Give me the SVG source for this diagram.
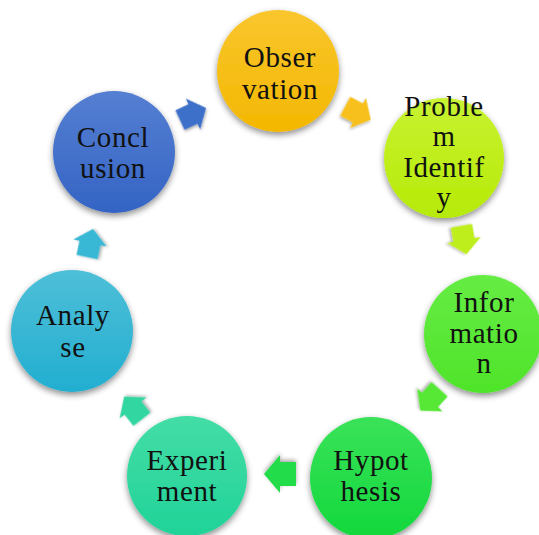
<svg xmlns="http://www.w3.org/2000/svg" xmlns:xlink="http://www.w3.org/1999/xlink" width="539" height="535" viewBox="0 0 539 535">
<style>
  .lbl { font-family: "Liberation Serif", "Times New Roman", serif; font-size: 29px; letter-spacing: 0.6px; fill: #111; text-anchor: middle; }
  .node circle { filter: url(#sh); }
  .arr { filter: url(#sh2); }
</style>
<defs>
  <filter id="sh" x="-30%" y="-30%" width="160%" height="170%">
    <feDropShadow dx="0" dy="3" stdDeviation="3" flood-color="#000" flood-opacity="0.45"/>
  </filter>
  <filter id="sh2" x="-40%" y="-40%" width="180%" height="180%">
    <feDropShadow dx="0" dy="2" stdDeviation="2" flood-color="#000" flood-opacity="0.35"/>
  </filter>
  <linearGradient id="gObs" x1="0" y1="0" x2="0" y2="1"><stop offset="0" stop-color="#F9C62E"/><stop offset="1" stop-color="#F3B700"/></linearGradient>
  <linearGradient id="gPro" x1="0" y1="0" x2="0" y2="1"><stop offset="0" stop-color="#C8F232"/><stop offset="1" stop-color="#B6EA06"/></linearGradient>
  <linearGradient id="gInf" x1="0" y1="0" x2="0" y2="1"><stop offset="0" stop-color="#66EC44"/><stop offset="1" stop-color="#4FE42A"/></linearGradient>
  <linearGradient id="gHyp" x1="0" y1="0" x2="0" y2="1"><stop offset="0" stop-color="#3AE258"/><stop offset="1" stop-color="#12D83C"/></linearGradient>
  <linearGradient id="gExp" x1="0" y1="0" x2="0" y2="1"><stop offset="0" stop-color="#44DDA6"/><stop offset="1" stop-color="#20D398"/></linearGradient>
  <linearGradient id="gAna" x1="0" y1="0" x2="0" y2="1"><stop offset="0" stop-color="#4EBFD8"/><stop offset="1" stop-color="#22AED0"/></linearGradient>
  <linearGradient id="gCon" x1="0" y1="0" x2="0" y2="1"><stop offset="0" stop-color="#557FD2"/><stop offset="1" stop-color="#3464C4"/></linearGradient>
  <path id="arrow" d="M-16,-12 H0 V-19 L16,0 L0,19 V12 H-16 Z"/>
</defs>
<rect width="539" height="535" fill="#fff"/>

<g id="connectors">
  <use class="arr" xlink:href="#arrow" transform="translate(193,114) rotate(-25) scale(0.9)" fill="#3E6FC9"/>
  <use class="arr" xlink:href="#arrow" transform="translate(358,113) rotate(28) scale(0.9)" fill="#F7C01E"/>
  <use class="arr" xlink:href="#arrow" transform="translate(464,240) rotate(80) scale(0.9)" fill="#BEEE1A"/>
  <use class="arr" xlink:href="#arrow" transform="translate(430,400) rotate(132) scale(0.9)" fill="#56E834"/>
  <use class="arr" xlink:href="#arrow" transform="translate(280,474) rotate(180)" fill="#22DC48"/>
  <use class="arr" xlink:href="#arrow" transform="translate(133,408) rotate(232) scale(0.9)" fill="#30D6A0"/>
  <use class="arr" xlink:href="#arrow" transform="translate(90,243) rotate(-78) scale(0.9)" fill="#38B8D4"/>
</g>

<g id="observation" class="node">
  <circle cx="278" cy="71" r="61" fill="url(#gObs)"/>
  <text class="lbl" x="280" y="67">Obser</text>
  <text class="lbl" x="280" y="99">vation</text>
</g>
<g id="problem" class="node">
  <circle cx="444" cy="158" r="60" fill="url(#gPro)"/>
  <text class="lbl" x="444" y="116">Proble</text>
  <text class="lbl" x="444" y="146">m</text>
  <text class="lbl" x="444" y="177">Identif</text>
  <text class="lbl" x="444" y="207">y</text>
</g>
<g id="information" class="node">
  <circle cx="483" cy="334" r="59" fill="url(#gInf)"/>
  <text class="lbl" x="484" y="312">Infor</text>
  <text class="lbl" x="484" y="343">matio</text>
  <text class="lbl" x="484" y="373">n</text>
</g>
<g id="hypothesis" class="node">
  <circle cx="371" cy="478" r="61" fill="url(#gHyp)"/>
  <text class="lbl" x="371" y="470">Hypot</text>
  <text class="lbl" x="371" y="501">hesis</text>
</g>
<g id="experiment" class="node">
  <circle cx="187" cy="476" r="60" fill="url(#gExp)"/>
  <text class="lbl" x="187" y="470">Experi</text>
  <text class="lbl" x="187" y="501">ment</text>
</g>
<g id="analyse" class="node">
  <circle cx="72" cy="331" r="61" fill="url(#gAna)"/>
  <text class="lbl" x="73" y="325">Analy</text>
  <text class="lbl" x="73" y="357">se</text>
</g>
<g id="conclusion" class="node">
  <circle cx="114" cy="152" r="61" fill="url(#gCon)"/>
  <text class="lbl" x="113" y="147">Concl</text>
  <text class="lbl" x="113" y="178">usion</text>
</g>
</svg>
